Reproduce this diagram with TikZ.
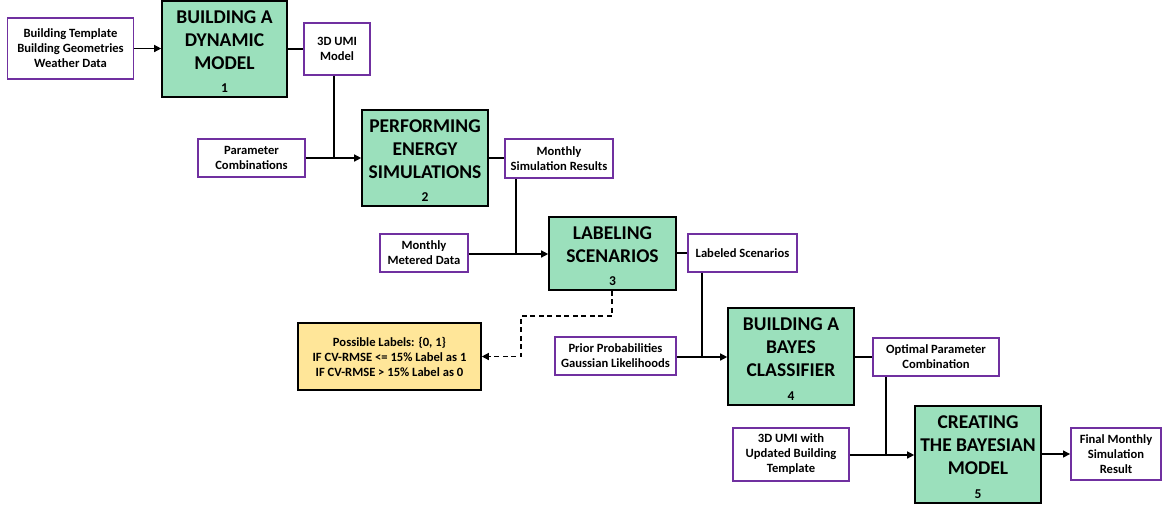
\documentclass[tikz,border=0pt]{standalone}
\usepackage{fontspec}
\setmainfont{Carlito}
\usetikzlibrary{arrows.meta,calc}
\definecolor{stepgreen}{HTML}{9BE0BC}
\definecolor{boxpurple}{HTML}{7030A0}
\definecolor{noteyellow}{HTML}{FFE699}
\begin{document}
\begin{tikzpicture}[x=1pt,y=-1pt,
  iobox/.style={draw=boxpurple,line width=1.9pt,fill=white,inner sep=0pt,align=center,
    font=\fontsize{12.6}{15}\selectfont\bfseries},
  greenbox/.style={draw=black,line width=1.6pt,fill=stepgreen,inner sep=0pt},
  greentext/.style={align=center,inner sep=0pt,font=\fontsize{19.5}{23}\selectfont\bfseries},
  numtext/.style={inner sep=0pt,font=\fontsize{13.5}{15}\selectfont\bfseries},
  notebox/.style={draw=black,line width=1.6pt,fill=noteyellow,inner sep=0pt,align=center,
    font=\fontsize{12.6}{15}\selectfont\bfseries},
  conn/.style={line width=1.3pt},
  arr/.style={conn,-{Triangle[length=7pt,width=7pt]}},
  dasharr/.style={arr,dash pattern=on 5pt off 3.5pt}]
\useasboundingbox (0,0) rectangle (1162,507);
\fill[white] (0,0) rectangle (1162,507);

% input boxes
\node[iobox,minimum width=126pt,minimum height=61pt] (in1) at (70.5,48.5) {Building Template\\Building Geometries\\Weather Data};
\node[iobox,minimum width=66pt,minimum height=52pt] (umi) at (337,49) {3D UMI\\Model};
\node[iobox,minimum width=107pt,minimum height=38pt] (pc) at (251.5,158) {Parameter\\Combinations};
\node[iobox,minimum width=108pt,minimum height=39pt] (msr) at (559,158.5) {Monthly\\Simulation Results};
\node[iobox,minimum width=88pt,minimum height=38pt] (mmd) at (424,253) {Monthly\\Metered Data};
\node[iobox,minimum width=109pt,minimum height=38pt] (ls) at (742.5,253) {Labeled Scenarios};
\node[iobox,minimum width=121pt,minimum height=38pt] (pp) at (615.5,356) {Prior Probabilities\\Gaussian Likelihoods};
\node[iobox,minimum width=126pt,minimum height=38pt] (opc) at (936,357) {Optimal Parameter\\Combination};
\node[iobox,minimum width=116pt,minimum height=53pt] (umi2) at (791,454.5) {3D UMI with\\Updated Building\\Template};
\node[iobox,minimum width=90pt,minimum height=52pt] (fin) at (1116,454) {Final Monthly\\Simulation\\Result};

% note
\node[notebox,minimum width=183pt,minimum height=67pt] (note) at (389.5,356.5) {Possible Labels: \{0, 1\}\\IF CV-RMSE <= 15\% Label as 1\\IF CV-RMSE > 15\% Label as 0};

% green steps
\node[greenbox,minimum width=125pt,minimum height=96pt] (g1) at (224.5,49) {};
\node[greentext] (g1t) at ($(g1.center)+(0,-8.5)$) {BUILDING A\\DYNAMIC\\MODEL};
\node[numtext] (g1n) at ($(g1.south)+(0,-9.5)$) {1};

\node[greenbox,minimum width=126pt,minimum height=96pt] (g2) at (425,158) {};
\node[greentext] (g2t) at ($(g2.center)+(0,-9)$) {PERFORMING\\ENERGY\\SIMULATIONS};
\node[numtext] (g2n) at ($(g2.south)+(0,-9.5)$) {2};

\node[greenbox,minimum width=127pt,minimum height=73pt] (g3) at (612.5,253.5) {};
\node[greentext] (g3t) at ($(g3.center)+(0,-9)$) {LABELING\\SCENARIOS};
\node[numtext] (g3n) at ($(g3.south)+(0,-10)$) {3};

\node[greenbox,minimum width=126pt,minimum height=97pt] (g4) at (791,356.5) {};
\node[greentext] (g4t) at ($(g4.center)+(0,-9)$) {BUILDING A\\BAYES\\CLASSIFIER};
\node[numtext] (g4n) at ($(g4.south)+(0,-9.5)$) {4};

\node[greenbox,minimum width=126pt,minimum height=97pt] (g5) at (978,454.5) {};
\node[greentext] (g5t) at ($(g5.center)+(0,-9)$) {CREATING\\THE BAYESIAN\\MODEL};
\node[numtext] (g5n) at ($(g5.south)+(0,-9.5)$) {5};

% junction coordinates
\coordinate (j1) at (334,158);
\coordinate (j2) at (516,254);
\coordinate (j3) at (702,357);
\coordinate (j4) at (886,455);
\coordinate (d1) at (612,316);
\coordinate (d2) at (521,316);

% connectors
\draw[arr] (in1.east) -- (in1.east -| g1.west);
\draw[conn] (g1.east) -- (g1.east -| umi.west);
\draw[conn] (umi.south -| j1) -- (j1);
\draw[arr] (pc.east) -- (g2.west);

\draw[conn] (g2.east) -- (g2.east -| msr.west);
\draw[conn] (msr.south -| j2) -- (j2);
\draw[arr] (mmd.east |- j2) -- (j2 -| g3.west);

\draw[conn] (g3.east |- ls.west) -- (ls.west);
\draw[conn] (ls.south -| j3) -- (j3);
\draw[arr] (pp.east |- j3) -- (j3 -| g4.west);

\draw[conn] (g4.east |- opc.west) -- (opc.west);
\draw[conn] (opc.south -| j4) -- (j4);
\draw[arr] (umi2.east |- j4) -- (j4 -| g5.west);

\draw[arr] (g5.east |- fin.west) -- (fin.west);

\draw[dasharr] (g3.south -| d1) -- (d1) -- (d2) -- (d2 |- note.east) -- (note.east);
\end{tikzpicture}
\end{document}
